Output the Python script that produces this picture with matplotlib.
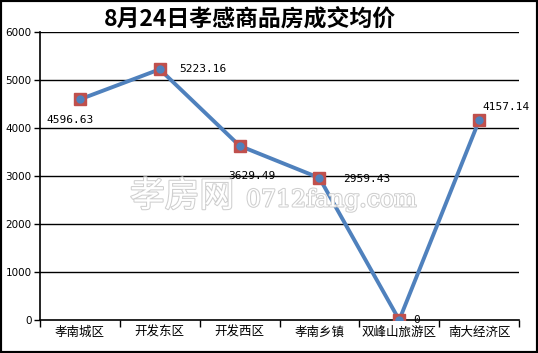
import matplotlib
matplotlib.use("Agg")
import matplotlib.pyplot as plt
import matplotlib.patheffects as pe
from matplotlib.patches import Rectangle

categories = ["孝南城区", "开发东区", "开发西区", "孝南乡镇", "双峰山旅游区", "南大经济区"]
values = [4596.63, 5223.16, 3629.49, 2959.43, 0, 4157.14]
labels = ["4596.63", "5223.16", "3629.49", "2959.43", "0", "4157.14"]
yticks = [0, 1000, 2000, 3000, 4000, 5000, 6000]
title = "8月24日孝感商品房成交均价"

plt.rcParams['font.family'] = ['Noto Sans CJK SC', 'DejaVu Sans']

W, H = 538, 353
fig = plt.figure(figsize=(W / 100, H / 100), dpi=100)
ax = fig.add_axes([40 / W, 1 - 320 / H, (519 - 40) / W, (320 - 32) / H])

x = list(range(len(categories)))
ax.set_xlim(-0.5, len(categories) - 0.5)
ax.set_ylim(0, 6000)

for y in yticks[1:]:
    ax.axhline(y, color='black', lw=1.0, zorder=1)

ax.plot(x, values, color='#4F81BD', lw=2.8, zorder=3)
ax.plot(x, values, ls='none', marker='s', ms=8, mfc='#C0504D', mec='#C0504D', zorder=4)
ax.plot(x, values, ls='none', marker='o', ms=5, mfc='#4F81BD', mec='#4F81BD', zorder=5)

offsets = [(-33, -21), (20, 0), (-11, -30), (24, -1), (14, 0), (3, 13)]
for xi, v, lab, off in zip(x, values, labels, offsets):
    ax.annotate(lab, (xi, v), xytext=off, textcoords='offset pixels', ha='left', va='center',
                fontsize=8, family='DejaVu Sans Mono', zorder=6)

ax.set_yticks(yticks)
ax.set_yticklabels([str(t) for t in yticks], fontsize=7.5, family='DejaVu Sans')
ax.set_xticks([i - 0.5 for i in range(len(categories) + 1)], minor=False)
ax.set_xticklabels([])
ax.set_xticks(x, minor=True)
ax.set_xticklabels(categories, minor=True, fontsize=9)
ax.tick_params(axis='x', which='major', length=5, width=1, direction='out', color='black')
ax.tick_params(axis='x', which='minor', length=0, pad=4)
ax.tick_params(axis='y', length=4, width=1, direction='out', pad=2)

for s in ['top', 'right']:
    ax.spines[s].set_visible(False)
ax.spines['left'].set_linewidth(1.2)
ax.spines['bottom'].set_linewidth(1.2)

fig.text(250 / W, 1 - 19 / H, title, ha='center', va='center', fontsize=16.5, fontweight='bold',
         color='black')

wm1 = fig.text(130 / W, 1 - 197 / H, "孝房网", ha='left', va='center',
               fontsize=25, color='white', zorder=2)
wm1.set_path_effects([pe.withStroke(linewidth=1.5, foreground='#cfcfcf')])
wm2 = fig.text(246 / W, 1 - 200 / H, "0712fang.com", ha='left', va='center',
               fontsize=17, color='white', zorder=2, family='DejaVu Serif')
wm2.set_path_effects([pe.withStroke(linewidth=1.5, foreground='#cfcfcf')])

fig.patches.append(Rectangle((0, 0), 1, 1, transform=fig.transFigure, fill=False,
                             edgecolor='black', lw=3, zorder=10))

fig.savefig("out.png", dpi=100)
